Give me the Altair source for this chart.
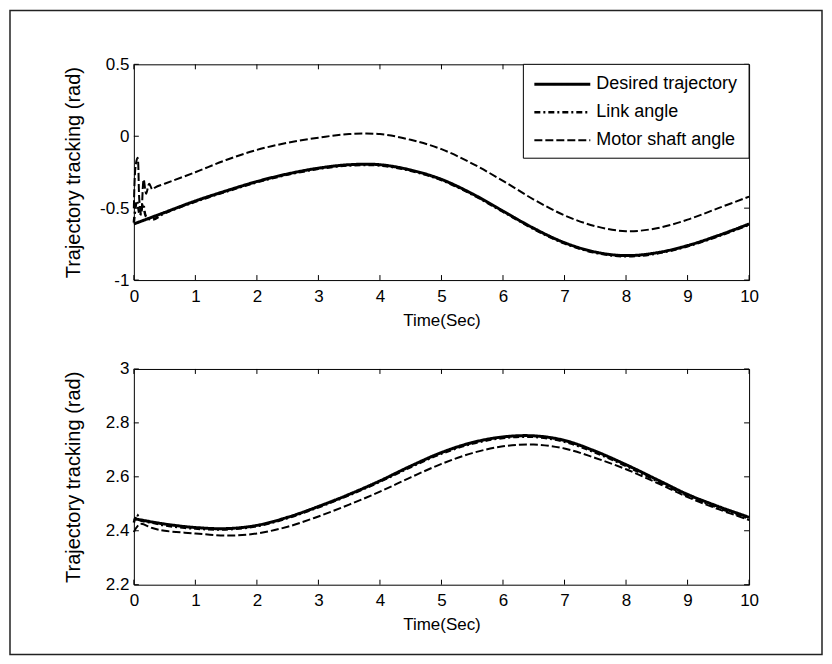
import altair as alt
import pandas as pd

series_names = ["Desired trajectory", "Link angle", "Motor shaft angle"]
x_ticks = [0, 1, 2, 3, 4, 5, 6, 7, 8, 9, 10]
top_y_ticks = [-1, -0.5, 0, 0.5]
bot_y_ticks = [2.2, 2.4, 2.6, 2.8, 3]

# ---- top panel data ----
top_des_t = [0, 0.5, 1, 1.5, 2, 2.5, 3, 3.5, 4, 4.5, 5, 5.5, 6, 6.5, 7, 7.5, 8, 8.5, 9, 9.5, 10]
top_des_v = [-0.61, -0.53, -0.45, -0.38, -0.315, -0.262, -0.222, -0.198, -0.198, -0.235, -0.30,
             -0.40, -0.52, -0.64, -0.74, -0.805, -0.83, -0.81, -0.76, -0.69, -0.61]

top_link_t = [0, 0.05, 0.1, 0.15, 0.2, 0.3, 0.5, 1, 1.5, 2, 2.5, 3, 3.5, 4, 4.5, 5, 5.5, 6, 6.5, 7,
              7.5, 8, 8.5, 9, 9.5, 10]
top_link_v = [-0.60, -0.45, -0.55, -0.47, -0.56, -0.58, -0.535, -0.455, -0.385, -0.32, -0.267, -0.227,
              -0.203, -0.203, -0.24, -0.305, -0.405, -0.525, -0.645, -0.745, -0.81, -0.835,
              -0.815, -0.765, -0.695, -0.615]

top_mot_t = [0, 0.03, 0.06, 0.09, 0.12, 0.16, 0.2, 0.25, 0.3, 0.35, 0.5, 1, 1.5, 2, 2.5, 3, 3.5, 4,
             4.5, 5, 5.5, 6, 6.5, 7, 7.5, 8, 8.5, 9, 9.5, 10]
top_mot_v = [-0.50, -0.20, -0.15, -0.45, -0.54, -0.30, -0.40, -0.33, -0.37, -0.355, -0.33, -0.25, -0.165,
             -0.095, -0.045, -0.01, 0.015, 0.015, -0.025, -0.09, -0.19, -0.31, -0.44, -0.55, -0.625,
             -0.66, -0.64, -0.58, -0.50, -0.42]

# ---- bottom panel data ----
bot_des_t = [0, 0.5, 1, 1.5, 2, 2.5, 3, 3.5, 4, 4.5, 5, 5.5, 6, 6.5, 7, 7.5, 8, 8.5, 9, 9.5, 10]
bot_des_v = [2.445, 2.425, 2.412, 2.408, 2.42, 2.45, 2.49, 2.535, 2.585, 2.64, 2.69, 2.727, 2.748, 2.752,
             2.735, 2.695, 2.645, 2.59, 2.535, 2.49, 2.45]

bot_link_t = [0, 0.05, 0.1, 0.3, 0.5, 1, 1.5, 2, 2.5, 3, 3.5, 4, 4.5, 5, 5.5, 6, 6.5, 7, 7.5, 8, 8.5, 9,
              9.5, 10]
bot_link_v = [2.43, 2.46, 2.44, 2.43, 2.42, 2.408, 2.405, 2.417, 2.447, 2.487, 2.532, 2.582, 2.636, 2.686,
              2.723, 2.744, 2.748, 2.73, 2.69, 2.64, 2.585, 2.53, 2.485, 2.445]

bot_mot_t = [0, 0.1, 0.3, 0.5, 1, 1.5, 2, 2.5, 3, 3.5, 4, 4.5, 5, 5.5, 6, 6.5, 7, 7.5, 8, 8.5, 9, 9.5, 10]
bot_mot_v = [2.395, 2.425, 2.41, 2.40, 2.39, 2.382, 2.39, 2.415, 2.453, 2.497, 2.545, 2.598, 2.648, 2.688,
             2.713, 2.72, 2.705, 2.67, 2.628, 2.578, 2.525, 2.48, 2.44]


def frame(ts, vs, name):
    return pd.DataFrame({"t": ts, "v": vs, "series": name})


top_df = pd.concat([frame(top_des_t, top_des_v, series_names[0]),
                    frame(top_link_t, top_link_v, series_names[1]),
                    frame(top_mot_t, top_mot_v, series_names[2])])
bot_df = pd.concat([frame(bot_des_t, bot_des_v, series_names[0]),
                    frame(bot_link_t, bot_link_v, series_names[1]),
                    frame(bot_mot_t, bot_mot_v, series_names[2])])

W, H = 616, 216
FONT = "Liberation Sans"

dash_scale = alt.Scale(domain=series_names, range=[[1, 0], [6, 3, 2, 3], [8, 3]])
width_scale = alt.Scale(domain=series_names, range=[3, 2, 2.5])


def panel(df, ydom, yticks, with_legend, with_border):
    x_enc = alt.X("t:Q", scale=alt.Scale(domain=[0, 10], nice=False, zero=False),
                  axis=alt.Axis(values=x_ticks, title="Time(Sec)", labelPadding=8,
                                titleX=W / 2, titleY=40, titleAlign="center",
                                titleBaseline="middle"))
    y_enc = alt.Y("v:Q", scale=alt.Scale(domain=ydom, nice=False, zero=False),
                  axis=alt.Axis(values=yticks, title="Trajectory tracking (rad)", labelPadding=5,
                                labelExpr="'' + datum.value", titleX=-60, titleY=H / 2,
                                titleAlign="center", titleBaseline="middle", titleFontSize=20))

    lines = alt.Chart(df).mark_line(interpolate="catmull-rom", color="black").encode(
        x=x_enc, y=y_enc,
        strokeDash=alt.StrokeDash("series:N", scale=dash_scale, legend=None),
        strokeWidth=alt.StrokeWidth("series:N", scale=width_scale, legend=None),
    )

    xt = pd.DataFrame({"t": x_ticks})
    yt = pd.DataFrame({"v": yticks})
    tick_b = alt.Chart(xt).mark_rule(color="black").encode(x=x_enc, y=alt.value(H), y2=alt.value(H - 5))
    tick_t = alt.Chart(xt).mark_rule(color="black").encode(x=x_enc, y=alt.value(0), y2=alt.value(5))
    tick_l = alt.Chart(yt).mark_rule(color="black").encode(y=y_enc, x=alt.value(0), x2=alt.value(5))
    tick_r = alt.Chart(yt).mark_rule(color="black").encode(y=y_enc, x=alt.value(W), x2=alt.value(W - 5))

    layers = [lines, tick_b, tick_t, tick_l, tick_r]

    if with_legend:
        box = alt.Chart(pd.DataFrame({"k": [0]})).mark_rect(
            fill="white", stroke="black", strokeWidth=1).encode(
            x=alt.value(390), x2=alt.value(W), y=alt.value(0), y2=alt.value(94))
        layers.append(box)
        for i, name in enumerate(series_names):
            ldf = pd.DataFrame({"series": [name]})
            ry = 20 + 28 * i
            sym = alt.Chart(ldf).mark_rule(color="black").encode(
                x=alt.value(401), x2=alt.value(457), y=alt.value(ry),
                strokeDash=alt.StrokeDash("series:N", scale=dash_scale, legend=None),
                strokeWidth=alt.StrokeWidth("series:N", scale=width_scale, legend=None))
            txt = alt.Chart(ldf).mark_text(align="left", baseline="middle", fontSize=18,
                                           font=FONT, color="black").encode(
                x=alt.value(463), y=alt.value(ry), text="series:N")
            layers += [sym, txt]

    if with_border:
        border = alt.Chart(pd.DataFrame({"k": [0]})).mark_rect(
            fillOpacity=0, stroke="#222222", strokeWidth=1.5).encode(
            x=alt.value(-124), x2=alt.value(689), y=alt.value(-54), y2=alt.value(591))
        layers.append(border)

    return alt.layer(*layers).properties(width=W, height=H)


top = panel(top_df, [-1, 0.5], top_y_ticks, True, True)
bottom = panel(bot_df, [2.2, 3], bot_y_ticks, False, False)

chart = alt.vconcat(top, bottom, spacing=89, bounds="flush").properties(
    padding={"left": 0, "top": 0, "right": 0, "bottom": 0}
).configure_view(stroke="black", strokeWidth=1).configure_axis(
    labelFont=FONT, labelFontSize=17, labelColor="black", labelFlush=False, labelOverlap=False,
    titleFont=FONT, titleFontSize=17, titleFontWeight="normal", titleColor="black",
    domain=False, ticks=False, tickSize=0, grid=False
)

chart.save("out.html", embed_options={"renderer": "svg", "actions": False})
